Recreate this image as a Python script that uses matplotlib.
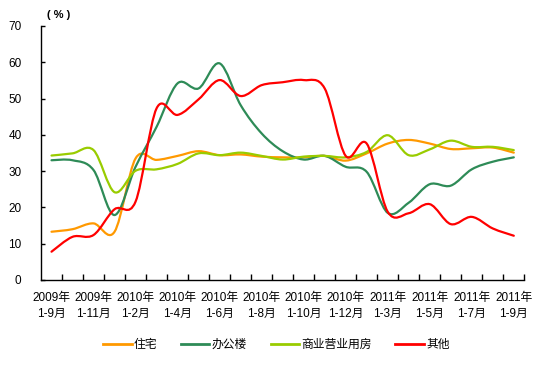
import numpy as np
import matplotlib
matplotlib.use("Agg")
import matplotlib.pyplot as plt
from matplotlib.path import Path
from matplotlib.patches import PathPatch
from matplotlib.lines import Line2D

plt.rcParams['font.family'] = ['Liberation Sans', 'Noto Sans CJK SC', 'DejaVu Sans']

# monthly cumulative periods, 2009年1-9月 ... 2011年1-9月
periods = ["2009年\n1-9月", "", "2009年\n1-11月", "",
           "2010年\n1-2月", "", "2010年\n1-4月", "", "2010年\n1-6月", "",
           "2010年\n1-8月", "", "2010年\n1-10月", "", "2010年\n1-12月",
           "", "2011年\n1-3月", "", "2011年\n1-5月", "", "2011年\n1-7月", "",
           "2011年\n1-9月"]

residential = [13.3, 14.0, 15.6, 13.3, 33.5, 33.1, 34.2, 35.5, 34.4, 34.6, 34.0, 33.8,
               33.8, 34.2, 32.9, 34.9, 37.6, 38.6, 37.6, 36.1, 36.3, 36.5, 35.1]
office = [33.0, 33.0, 30.3, 17.9, 31.2, 42.2, 54.2, 52.8, 59.7, 48.2, 40.4, 35.5,
          33.2, 34.2, 31.2, 29.8, 18.5, 21.3, 26.4, 26.0, 30.5, 32.6, 33.8]
commercial = [34.3, 34.9, 35.8, 24.2, 30.1, 30.5, 32.0, 34.9, 34.4, 35.1, 34.2, 33.2,
              34.0, 34.2, 33.8, 35.3, 39.9, 34.4, 36.0, 38.4, 36.7, 36.7, 35.8]
other = [7.8, 11.9, 12.4, 19.5, 21.6, 47.3, 45.5, 49.8, 55.1, 50.7, 53.7, 54.5,
         55.1, 52.8, 34.2, 37.6, 18.8, 18.4, 20.9, 15.4, 17.4, 14.2, 12.2]

series = [("住宅", residential, "#FF9900"),
          ("办公楼", office, "#2E8B57"),
          ("商业营业用房", commercial, "#99CC00"),
          ("其他", other, "#FF0000")]


def smooth_path(vals):
    # bezier curve through every point, like a spreadsheet "smoothed line"
    pts = np.column_stack([np.arange(len(vals)), vals]).astype(float)
    ext = np.vstack([pts[0], pts, pts[-1]])
    verts = [pts[0]]
    codes = [Path.MOVETO]
    for i in range(len(pts) - 1):
        p0, p1, p2, p3 = ext[i], ext[i + 1], ext[i + 2], ext[i + 3]
        verts += [p1 + (p2 - p0) / 6, p2 - (p3 - p1) / 6, p2]
        codes += [Path.CURVE4] * 3
    return Path(verts, codes)


fig = plt.figure(figsize=(5.44, 3.65), dpi=100)
ax = fig.add_axes([41 / 544, 1 - 280 / 365, (524.3 - 41) / 544, (280 - 26) / 365])

handles = []
for name, vals, col in series:
    ax.add_patch(PathPatch(smooth_path(vals), fill=False, edgecolor=col, lw=1.6,
                           capstyle='round', joinstyle='round'))
    handles.append(Line2D([], [], color=col, lw=2, label=name))

n = len(periods)
ax.set_xlim(-0.5, n - 0.5)
ax.set_ylim(0, 70)
ax.set_yticks(range(0, 71, 10))
ax.set_xticks(range(n))
ax.set_xticklabels(periods, fontsize=8.5, linespacing=1.4)
ax.set_xticks(np.arange(0.5, n, 1), minor=True)
ax.tick_params(axis='x', which='major', length=0, pad=9)
ax.tick_params(axis='x', which='minor', length=4, direction='in', width=1)
ax.tick_params(axis='y', length=3, direction='in', width=1, labelsize=8.5, pad=14)
for s in ['top', 'right']:
    ax.spines[s].set_visible(False)
for s in ['left', 'bottom']:
    ax.spines[s].set_linewidth(1)

fig.text(47 / 544, 1 - 15 / 365, "( % )", fontsize=8, fontweight='bold', va='center')

fig.legend(handles=handles, loc='center', bbox_to_anchor=(0.508, 1 - 345 / 365),
           ncol=4, frameon=False, fontsize=8.5, handlelength=2.4, columnspacing=2.0,
           handletextpad=0.2)

fig.savefig("out.png", dpi=100)
